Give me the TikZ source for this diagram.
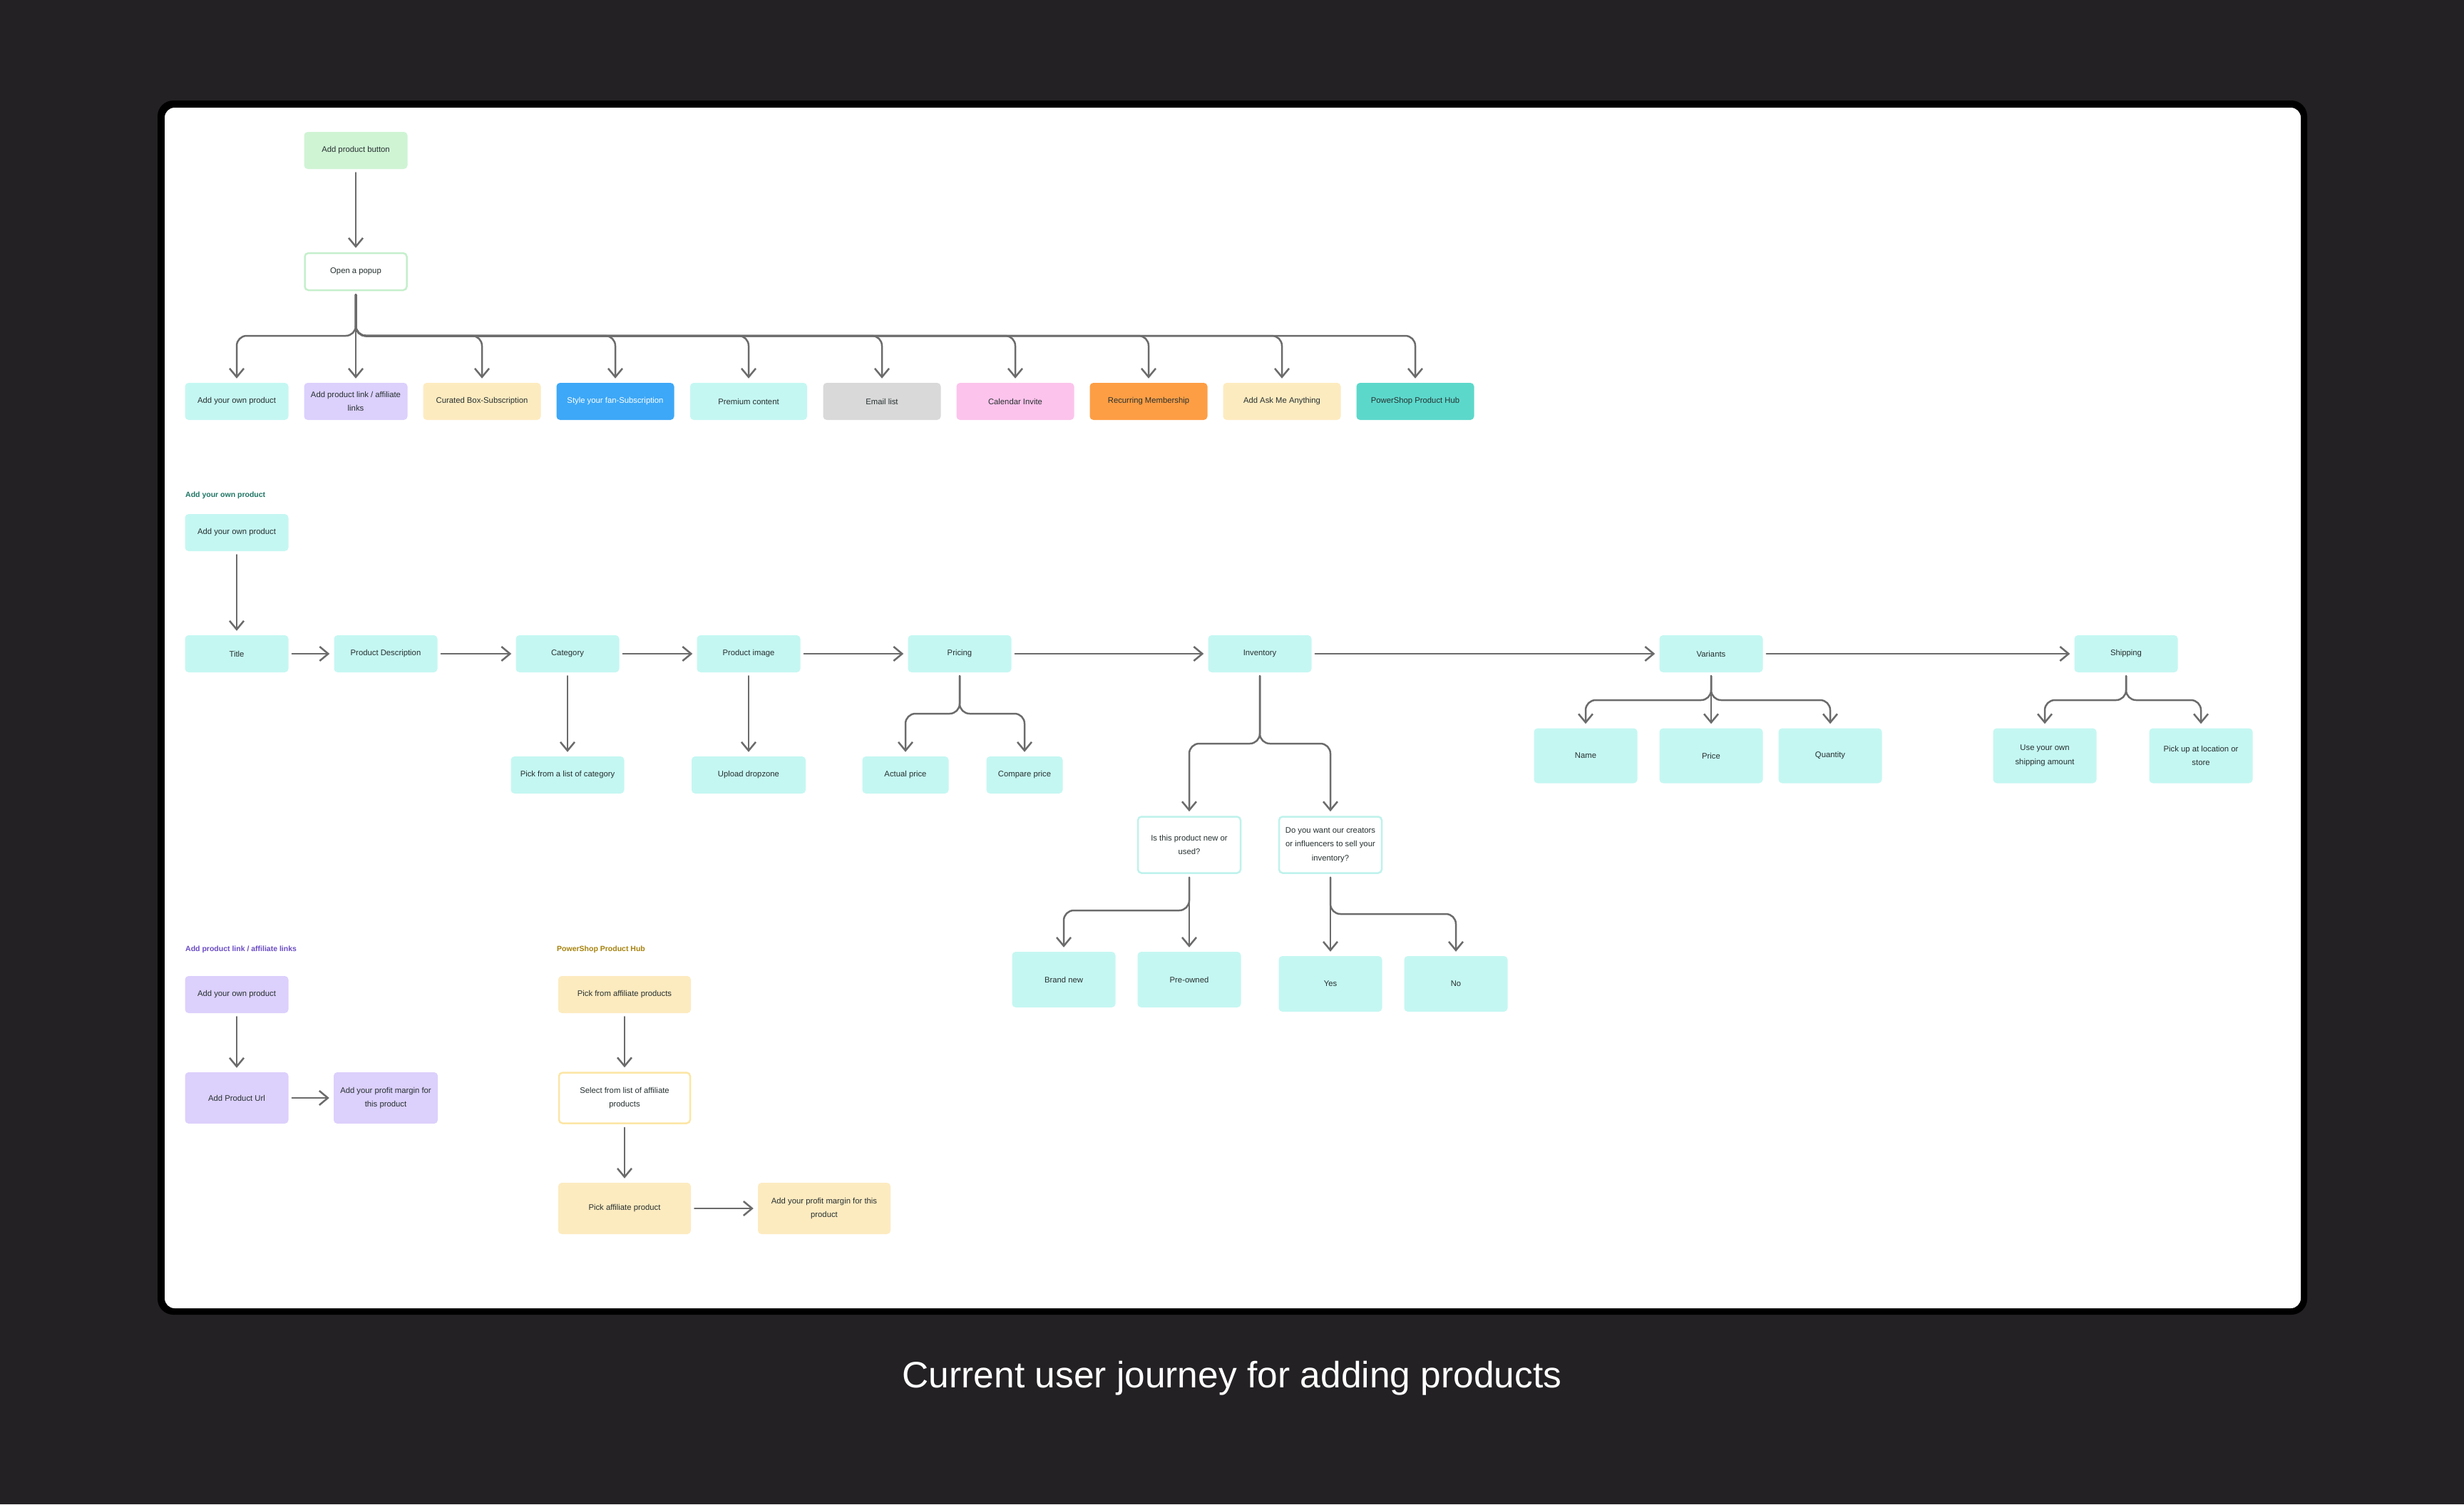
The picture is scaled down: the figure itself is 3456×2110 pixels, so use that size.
\documentclass[tikz,border=0pt]{standalone}
\usepackage{fontspec}
\setmainfont{Liberation Sans}
\usetikzlibrary{arrows.meta}
\definecolor{bg}{HTML}{232123}
\definecolor{cyanF}{HTML}{C5F7F2}
\definecolor{greenF}{HTML}{CFF4D4}
\definecolor{purpleF}{HTML}{DCD0FC}
\definecolor{yellowF}{HTML}{FDEBC0}
\definecolor{blueF}{HTML}{3DA8F7}
\definecolor{grayF}{HTML}{D9D9D9}
\definecolor{pinkF}{HTML}{FCC3EC}
\definecolor{orangeF}{HTML}{FD9E45}
\definecolor{tealF}{HTML}{5CD8CB}
\definecolor{popB}{HTML}{C5EFCC}
\definecolor{qB}{HTML}{BFF2EC}
\definecolor{selB}{HTML}{FCE6A6}
\definecolor{lineC}{HTML}{6B6B6B}
\definecolor{txt}{HTML}{263030}
\definecolor{headTeal}{HTML}{1E7564}
\definecolor{headPurple}{HTML}{6A4BC4}
\definecolor{headGold}{HTML}{A6820C}
\begin{document}
\begin{tikzpicture}[x=1pt,y=-1pt,
  box/.style={rounded corners=5pt, minimum width=145pt, minimum height=52pt, inner sep=0pt, align=center, font=\fontsize{11.3}{19.5}\selectfont, text=txt},
  cyanbox/.style={box, fill=cyanF},
  tallbox/.style={cyanbox, minimum height=77pt},
  qbox/.style={box, fill=white, draw=qB, line width=2.5pt, minimum width=144pt, minimum height=79pt},
  purplebox/.style={box, fill=purpleF},
  yelbox/.style={box, fill=yellowF, minimum width=186pt},
  head/.style={anchor=west, inner sep=0pt, font=\bfseries\fontsize{10.5}{12}\selectfont},
  conn/.style={draw=lineC, line width=2.5pt, rounded corners=14pt, line cap=round, line join=round,
    -{Straight Barb[length=12pt,width=20pt]}, shorten <=5pt, shorten >=6pt}
]
% background and frame
\fill[bg] (0,0) rectangle (3456,2110);
\fill[black, rounded corners=22pt] (221,141) rectangle (3236,1844);
\fill[white, rounded corners=14pt] (231,151) rectangle (3227,1835);

% ---------- top section ----------
\node[box, fill=greenF] (btn) at (499,211) {Add product button};
\node[box, fill=white, draw=popB, line width=2.5pt, minimum width=143pt] (popup) at (499,381) {Open a popup};
\node[cyanbox] (c1) at (332,563) {Add your own product};
\node[purplebox] (c2) at (499,563) {Add product link / affiliate\\links};
\node[box, fill=yellowF, minimum width=165pt] (c3) at (676,563) {Curated Box-Subscription};
\node[box, fill=blueF, text=white, minimum width=165pt] (c4) at (863,563) {Style your fan-Subscription};
\node[box, fill=cyanF, minimum width=164pt] (c5) at (1050,563) {Premium content};
\node[box, fill=grayF, minimum width=165pt] (c6) at (1237,563) {Email list};
\node[box, fill=pinkF, minimum width=165pt] (c7) at (1424,563) {Calendar Invite};
\node[box, fill=orangeF, minimum width=165pt] (c8) at (1611,563) {Recurring Membership};
\node[box, fill=yellowF, minimum width=165pt] (c9) at (1798,563) {Add Ask Me Anything};
\node[box, fill=tealF, minimum width=165pt] (c10) at (1985,563) {PowerShop Product Hub};
\coordinate (busTop) at (0,471);
\draw[conn] (btn) -- (popup);
\draw[conn] (popup) -- (c2);
\foreach \n in {c1,c3,c4,c5,c6,c7,c8,c9,c10}
  \draw[conn] (popup.south) -- (popup.south |- busTop) -| (\n.north);

% ---------- Add your own product ----------
\node[head, text=headTeal] (h1) at (260,695) {Add your own product};
\node[cyanbox] (ayop) at (332,747) {Add your own product};
\node[cyanbox] (title) at (332,917) {Title};
\node[cyanbox] (pdesc) at (541,917) {Product Description};
\node[cyanbox] (cat) at (796,917) {Category};
\node[cyanbox] (pimg) at (1050,917) {Product image};
\node[cyanbox] (pricing) at (1346,917) {Pricing};
\node[cyanbox] (inv) at (1767,917) {Inventory};
\node[cyanbox] (var) at (2400,917) {Variants};
\node[cyanbox] (ship) at (2982,917) {Shipping};

\node[cyanbox, minimum width=159pt] (pick) at (796,1087) {Pick from a list of category};
\node[cyanbox, minimum width=160pt] (upl) at (1050,1087) {Upload dropzone};
\node[cyanbox, minimum width=121pt] (act) at (1270,1087) {Actual price};
\node[cyanbox, minimum width=107pt] (cmp) at (1437,1087) {Compare price};

\node[tallbox] (name) at (2224,1060) {Name};
\node[tallbox] (price) at (2400,1060) {Price};
\node[tallbox] (qty) at (2567,1060) {Quantity};
\node[tallbox] (own) at (2868,1060) {Use your own\\shipping amount};
\node[tallbox] (pickup) at (3087,1060) {Pick up at location or\\store};

\node[qbox] (q1) at (1668,1185) {Is this product new or\\used?};
\node[qbox] (q2) at (1866,1185) {Do you want our creators\\or influencers to sell your\\inventory?};
\node[tallbox, minimum height=78pt] (brand) at (1492,1374) {Brand new};
\node[tallbox, minimum height=78pt] (pre) at (1668,1374) {Pre-owned};
\node[tallbox, minimum height=78pt] (yes) at (1866,1380) {Yes};
\node[tallbox, minimum height=78pt] (no) at (2042,1380) {No};

\draw[conn] (ayop) -- (title);
\draw[conn] (title) -- (pdesc);
\draw[conn] (pdesc) -- (cat);
\draw[conn] (cat) -- (pimg);
\draw[conn] (pimg) -- (pricing);
\draw[conn] (pricing) -- (inv);
\draw[conn] (inv) -- (var);
\draw[conn] (var) -- (ship);
\draw[conn] (cat) -- (pick);
\draw[conn] (pimg) -- (upl);

\coordinate (busPr) at (0,1001);
\draw[conn] (pricing.south) -- (pricing.south |- busPr) -| (act.north);
\draw[conn] (pricing.south) -- (pricing.south |- busPr) -| (cmp.north);

\coordinate (busInv) at (0,1043);
\draw[conn] (inv.south) -- (inv.south |- busInv) -| (q1.north);
\draw[conn] (inv.south) -- (inv.south |- busInv) -| (q2.north);

\coordinate (busVar) at (0,982);
\draw[conn] (var.south) -- (var.south |- busVar) -| (name.north);
\draw[conn] (var) -- (price);
\draw[conn] (var.south) -- (var.south |- busVar) -| (qty.north);

\draw[conn] (ship.south) -- (ship.south |- busVar) -| (own.north);
\draw[conn] (ship.south) -- (ship.south |- busVar) -| (pickup.north);

\coordinate (busQ1) at (0,1277);
\draw[conn] (q1) -- (pre);
\draw[conn] (q1.south) -- (q1.south |- busQ1) -| (brand.north);
\coordinate (busQ2) at (0,1282);
\draw[conn] (q2) -- (yes);
\draw[conn] (q2.south) -- (q2.south |- busQ2) -| (no.north);

% ---------- Add product link / affiliate links ----------
\node[head, text=headPurple] (h2) at (260,1332) {Add product link / affiliate links};
\node[purplebox] (l1) at (332,1395) {Add your own product};
\node[purplebox, minimum height=72pt] (l2) at (332,1540) {Add Product Url};
\node[purplebox, minimum height=72pt, minimum width=146pt] (l3) at (541,1540) {Add your profit margin for\\this product};
\draw[conn] (l1) -- (l2);
\draw[conn] (l2) -- (l3);

% ---------- PowerShop Product Hub ----------
\node[head, text=headGold] (h3) at (781,1332) {PowerShop Product Hub};
\node[yelbox] (p1) at (876,1395) {Pick from affiliate products};
\node[box, fill=white, draw=selB, line width=2.5pt, minimum width=184pt, minimum height=71pt] (p2) at (876,1540) {Select from list of affiliate\\products};
\node[yelbox, minimum height=72pt] (p3) at (876,1695) {Pick affiliate product};
\node[yelbox, minimum height=72pt] (p4) at (1156,1695) {Add your profit margin for this\\product};
\draw[conn] (p1) -- (p2);
\draw[conn] (p2) -- (p3);
\draw[conn] (p3) -- (p4);

% caption
\node[anchor=base, text=white, inner sep=0pt, font=\fontsize{51.5}{60}\selectfont] (cap) at (1728,1946) {Current user journey for adding products};
\end{tikzpicture}
\end{document}
